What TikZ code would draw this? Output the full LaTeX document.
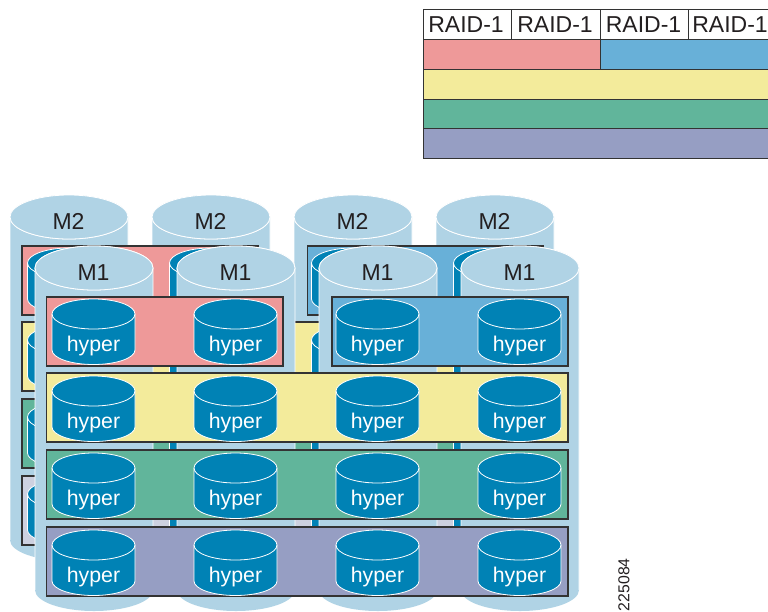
\documentclass[tikz,border=0pt]{standalone}
\usepackage{fontspec}
\setmainfont{Liberation Sans}
\definecolor{dpink}{HTML}{EE9999}
\definecolor{dblue}{HTML}{68B0D8}
\definecolor{dyellow}{HTML}{F3EB9B}
\definecolor{dgreen}{HTML}{61B59B}
\definecolor{dpurple}{HTML}{969EC3}
\definecolor{dpale}{HTML}{CDD1E0}
\definecolor{dmem}{HTML}{B0D3E5}
\definecolor{dhyper}{HTML}{0082B5}
\definecolor{dline}{HTML}{333333}
\definecolor{dtext}{HTML}{231F20}
\tikzset{
  rowbox/.style={draw=dline,line width=1.1pt},
  cellbox/.style={draw=dline,line width=.95pt},
  cyledge/.style={draw=white,line width=.8pt},
  raidtext/.style={text=dtext,inner sep=0pt,anchor=base,font=\fontsize{23}{23}\selectfont},
  memtext/.style={text=dtext,inner sep=0pt,anchor=base,font=\fontsize{23}{23}\selectfont},
  hypertext/.style={text=white,inner sep=0pt,anchor=base,font=\fontsize{21.3}{21.3}\selectfont},
  idtext/.style={text=dtext,inner sep=0pt,rotate=90,font=\fontsize{15.8}{15.8}\selectfont}
}
% cx, top y, bottom y, rx, ry top, ry bottom, fill
\newcommand{\cylshape}[7]{%
  \path[fill=#7] (#1-#4,#2) arc[start angle=180,end angle=360,x radius=#4,y radius=#5]
     -- (#1+#4,#3) arc[start angle=0,end angle=180,x radius=#4,y radius=#6] -- cycle;
  \draw[cyledge] (#1-#4,#3) -- (#1-#4,#2) arc[start angle=180,end angle=360,x radius=#4,y radius=#5] -- (#1+#4,#3);
  \draw[cyledge] (#1-#4,#2) arc[start angle=180,end angle=0,x radius=#4,y radius=#5];
}
% the hyper outline also closes round its base
\newcommand{\hypershape}[2]{%
  \cylshape{#1}{#2}{#2+36}{41.5}{15}{14.5}{dhyper}
  \draw[cyledge] (#1+41.5,#2+36) arc[start angle=0,end angle=180,x radius=41.5,y radius=14.5];
}
\newcommand{\layer}[3]{% dx, dy, colour of the lowest row
  \fill[dpink] (46.5+#1,297+#2) rectangle (283+#1,366+#2);
  \draw[rowbox] (46.5+#1,297+#2) rectangle (283+#1,366+#2);
  \fill[dblue] (332+#1,297+#2) rectangle (568+#1,366+#2);
  \draw[rowbox] (332+#1,297+#2) rectangle (568+#1,366+#2);
  \fill[dyellow] (46.5+#1,373+#2) rectangle (568+#1,442+#2);
  \draw[rowbox] (46.5+#1,373+#2) rectangle (568+#1,442+#2);
  \fill[dgreen] (46.5+#1,450+#2) rectangle (568+#1,519+#2);
  \draw[rowbox] (46.5+#1,450+#2) rectangle (568+#1,519+#2);
  \fill[#3] (46.5+#1,527+#2) rectangle (568+#1,596+#2);
  \draw[rowbox] (46.5+#1,527+#2) rectangle (568+#1,596+#2);
  \foreach \hx in {93.5,235.5,377.5,519.5}
    \foreach \hy in {314,391,468,545}
      {\hypershape{\hx+#1}{\hy+#2}}
}
\begin{document}
\begin{tikzpicture}[x=1pt,y=-1pt]
\useasboundingbox (0,0) rectangle (768,611);
\clip (0,0) rectangle (768,611);
\fill[white] (0,0) rectangle (768,611);

% RAID table
\fill[dpink] (423,39) rectangle (600,69);
\fill[dblue] (600,39) rectangle (780,69);
\fill[dyellow] (423,69) rectangle (780,99);
\fill[dgreen] (423,99) rectangle (780,128);
\fill[dpurple] (423,128) rectangle (780,158);
\draw[cellbox] (423,9) rectangle (780,158);
\draw[cellbox] (423,39) -- (780,39) (423,69) -- (780,69) (423,99) -- (780,99) (423,128) -- (780,128);
\draw[cellbox] (511,9) -- (511,39) (600,9) -- (600,69) (688,9) -- (688,39);
\node[raidtext] (r1) at (466,32) {RAID-1};
\node[raidtext] (r2) at (555,32) {RAID-1};
\node[raidtext] (r3) at (643.5,32) {RAID-1};
\node[raidtext] (r4) at (730,32) {RAID-1};

% back layer
\foreach \mx in {69,211,353,495} {\cylshape{\mx}{217}{540}{59}{22}{21}{dmem}}
\layer{-24.5}{-51}{dpale}
\foreach \mx/\nm in {69/a,211/b,353/c,495/d} {
  \draw[cyledge,fill=dmem] (\mx,217) ellipse[x radius=59,y radius=22];
  \node[memtext] (m2\nm) at (\mx-.5,229) {M2};
}

% front layer
\foreach \mx in {94,236,378,520} {\cylshape{\mx}{268}{590}{59}{22}{21}{dmem}}
\foreach \mx/\nm in {94/a,236/b,378/c,520/d} {
  \draw[cyledge,fill=dmem] (\mx,268) ellipse[x radius=59,y radius=22];
  \node[memtext] (m1\nm) at (\mx-.5,280) {M1};
}
\layer{0}{0}{dpurple}
\foreach \hx/\nm in {93.5/a,235.5/b,377.5/c,519.5/d}
  \foreach \by/\rw in {351/p,428/q,505/r,582/s}
    {\node[hypertext] (h\nm\rw) at (\hx,\by) {hyper};}

\node[idtext] (fig) at (624,584.7) {225084};
\end{tikzpicture}
\end{document}
